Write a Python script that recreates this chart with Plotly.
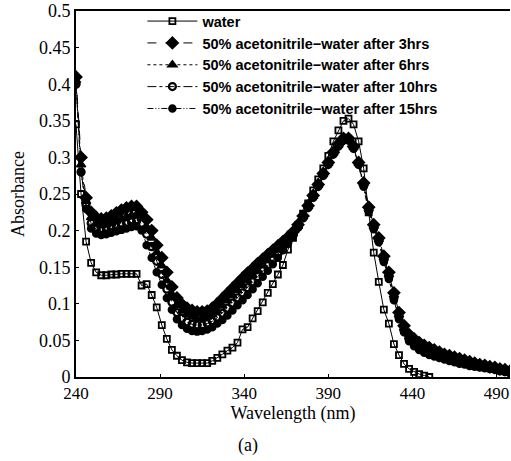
import plotly.graph_objects as go

# ---------------- data ----------------
water_nm = [240, 243, 246, 249, 252, 255, 258, 261, 264, 267, 270, 273, 276, 279, 282,
            285, 288, 291, 294, 297, 300, 303, 306, 309, 312, 315, 318, 321, 324, 327,
            330, 333, 336, 339, 342, 345, 348, 351, 354, 357, 360, 363, 366, 369, 372,
            375, 378, 381, 384, 387, 390, 393, 396, 399, 402, 405, 408, 411, 414, 417,
            420, 423, 426, 429, 432, 435, 438, 441, 444, 447, 450]
water = [0.345, 0.25, 0.185, 0.156, 0.143, 0.139, 0.139, 0.140, 0.140, 0.141, 0.141, 0.141, 0.141, 0.125, 0.127,
         0.112, 0.095, 0.071, 0.052, 0.037, 0.029, 0.023, 0.020, 0.019, 0.019, 0.019, 0.019, 0.022, 0.026, 0.031,
         0.036, 0.040, 0.047, 0.065, 0.068, 0.080, 0.090, 0.102, 0.115, 0.127, 0.140, 0.153, 0.174, 0.190, 0.207,
         0.223, 0.237, 0.255, 0.270, 0.285, 0.302, 0.322, 0.337, 0.350, 0.353, 0.345, 0.322, 0.285, 0.225, 0.170,
         0.130, 0.092, 0.073, 0.045, 0.030, 0.018, 0.011, 0.007, 0.004, 0.002, 0.000]

acn_nm = [240, 243, 246, 249, 252, 255, 258, 261, 264, 267, 270, 273, 276, 279, 282,
          285, 288, 291, 294, 297, 300, 303, 306, 309, 312, 315, 318, 321, 324, 327,
          330, 333, 336, 339, 342, 345, 348, 351, 354, 357, 360, 363, 366, 369, 372,
          375, 378, 381, 384, 387, 390, 393, 396, 399, 402, 405, 408, 411, 414, 417,
          420, 423, 426, 429, 432, 435, 438, 441, 444, 447, 450, 453, 456, 459, 462,
          465, 468, 471, 474, 477, 480, 483, 486, 489, 492, 495, 498]

acn_3h = [0.410, 0.300, 0.245, 0.225, 0.218, 0.216, 0.217, 0.220, 0.224, 0.228, 0.231, 0.233, 0.233, 0.225, 0.215,
          0.200, 0.180, 0.163, 0.143, 0.123, 0.108, 0.099, 0.094, 0.091, 0.089, 0.089, 0.090, 0.094, 0.100, 0.107,
          0.114, 0.121, 0.128, 0.135, 0.142, 0.148, 0.155, 0.161, 0.167, 0.173, 0.179, 0.185, 0.191, 0.198, 0.208,
          0.220, 0.234, 0.248, 0.263, 0.278, 0.293, 0.307, 0.318, 0.326, 0.326, 0.315, 0.293, 0.265, 0.232, 0.208,
          0.190, 0.165, 0.143, 0.115, 0.088, 0.070, 0.058, 0.052, 0.047, 0.043, 0.040, 0.037, 0.034, 0.031, 0.029,
          0.027, 0.025, 0.023, 0.021, 0.019, 0.017, 0.016, 0.014, 0.013, 0.011, 0.010, 0.008]
acn_6h = [0.405, 0.290, 0.240, 0.218, 0.210, 0.207, 0.208, 0.210, 0.213, 0.216, 0.219, 0.221, 0.222, 0.217, 0.205,
          0.190, 0.170, 0.152, 0.132, 0.113, 0.098, 0.090, 0.085, 0.082, 0.080, 0.080, 0.082, 0.085, 0.090, 0.097,
          0.104, 0.111, 0.118, 0.125, 0.132, 0.139, 0.146, 0.153, 0.160, 0.167, 0.174, 0.181, 0.188, 0.196, 0.206,
          0.219, 0.233, 0.247, 0.262, 0.277, 0.292, 0.306, 0.317, 0.325, 0.325, 0.314, 0.292, 0.264, 0.230, 0.206,
          0.188, 0.163, 0.140, 0.112, 0.085, 0.067, 0.055, 0.048, 0.043, 0.039, 0.036, 0.034, 0.031, 0.029, 0.027,
          0.025, 0.023, 0.021, 0.019, 0.017, 0.016, 0.015, 0.013, 0.012, 0.010, 0.009, 0.007]
acn_10h = [0.400, 0.280, 0.235, 0.210, 0.202, 0.200, 0.201, 0.203, 0.205, 0.208, 0.210, 0.212, 0.213, 0.210, 0.195,
           0.178, 0.158, 0.140, 0.120, 0.102, 0.088, 0.080, 0.075, 0.072, 0.071, 0.071, 0.073, 0.076, 0.081, 0.087,
           0.094, 0.101, 0.108, 0.115, 0.122, 0.130, 0.137, 0.145, 0.152, 0.160, 0.168, 0.177, 0.185, 0.194, 0.205,
           0.218, 0.232, 0.246, 0.261, 0.276, 0.291, 0.305, 0.316, 0.324, 0.324, 0.313, 0.291, 0.262, 0.228, 0.204,
           0.186, 0.160, 0.137, 0.108, 0.082, 0.064, 0.052, 0.045, 0.040, 0.036, 0.033, 0.031, 0.029, 0.027, 0.025,
           0.023, 0.021, 0.019, 0.017, 0.016, 0.015, 0.013, 0.012, 0.011, 0.009, 0.008, 0.006]
acn_15h = [0.400, 0.280, 0.230, 0.203, 0.196, 0.194, 0.195, 0.197, 0.199, 0.201, 0.203, 0.205, 0.206, 0.200, 0.180,
           0.163, 0.143, 0.126, 0.108, 0.092, 0.079, 0.071, 0.066, 0.063, 0.062, 0.063, 0.065, 0.068, 0.073, 0.078,
           0.084, 0.091, 0.098, 0.105, 0.112, 0.120, 0.128, 0.137, 0.145, 0.154, 0.163, 0.173, 0.182, 0.192, 0.204,
           0.217, 0.231, 0.245, 0.260, 0.275, 0.290, 0.304, 0.315, 0.323, 0.323, 0.312, 0.290, 0.260, 0.226, 0.202,
           0.184, 0.157, 0.134, 0.105, 0.079, 0.061, 0.049, 0.042, 0.037, 0.033, 0.030, 0.028, 0.026, 0.024, 0.022,
           0.020, 0.018, 0.017, 0.015, 0.014, 0.013, 0.012, 0.011, 0.010, 0.008, 0.007, 0.005]

labels = ["water",
          "50% acetonitrile\u2212water after 3hrs",
          "50% acetonitrile\u2212water after 6hrs",
          "50% acetonitrile\u2212water after 10hrs",
          "50% acetonitrile\u2212water after 15hrs"]
x_ticks = [240, 290, 340, 390, 440, 490]

# ---------------- figure ----------------
fig = go.Figure()

series = [
    (water_nm, water, labels[0], "solid", "square-open", 6, 1.8),
    (acn_nm, acn_3h, labels[1], "dash", "diamond", 9, 1.5),
    (acn_nm, acn_6h, labels[2], "dot", "triangle-up", 8, 1.5),
    (acn_nm, acn_10h, labels[3], "dashdot", "circle-open", 7, 2.2),
    (acn_nm, acn_15h, labels[4], "6px,2px,1px,2px,1px,2px", "circle", 7, 1.5),
]
for xs, ys, name, dash, sym, size, mlw in series:
    fig.add_trace(go.Scatter(
        x=xs, y=ys, name=name, mode="lines+markers",
        line=dict(color="black", width=1, dash=dash),
        marker=dict(symbol=sym, size=size, color="black",
                    line=dict(color="black", width=mlw)),
    ))

serif = "Liberation Serif, Times New Roman, serif"
fig.update_layout(
    width=511, height=461,
    margin=dict(l=76, r=1, t=11, b=84, autoexpand=False),
    paper_bgcolor="white", plot_bgcolor="white",
    showlegend=True,
    legend=dict(x=0.153, y=1.016, xanchor="left", yanchor="top",
                bgcolor="rgba(0,0,0,0)", borderwidth=0,
                font=dict(family="Liberation Sans, Arial, sans-serif", size=14.5,
                          color="black", weight="bold"),
                itemwidth=50, tracegroupgap=0),
    annotations=[dict(text="(a)", x=0.397, y=-0.222, xref="paper", yref="paper",
                      showarrow=False, font=dict(family=serif, size=18, color="black"))],
)
fig.update_xaxes(
    range=[240, 498], tickvals=x_ticks, ticktext=[str(v) for v in x_ticks],
    automargin=False, ticklabeloverflow="allow",
    showline=True, linecolor="black", linewidth=2, mirror=True,
    ticks="inside", ticklen=3, tickcolor="black",
    showgrid=False, zeroline=False,
    tickfont=dict(family=serif, size=17, color="black"),
    title=dict(text="Wavelength (nm)", standoff=0,
               font=dict(family=serif, size=18, color="black")),
)
fig.update_yaxes(
    range=[0, 0.5], tick0=0, dtick=0.05,
    automargin=False, ticklabeloverflow="allow",
    showline=True, linecolor="black", linewidth=2,
    ticks="inside", ticklen=3, tickcolor="black",
    showgrid=False, zeroline=False,
    tickfont=dict(family=serif, size=18, color="black"),
    title=dict(text="Absorbance", standoff=10,
               font=dict(family=serif, size=18, color="black")),
)

# remove the default page margin so the 511x461 figure fills the window exactly
fig.write_html("out.html", config={"displayModeBar": False},
               post_script="document.body.style.margin='0px';")
